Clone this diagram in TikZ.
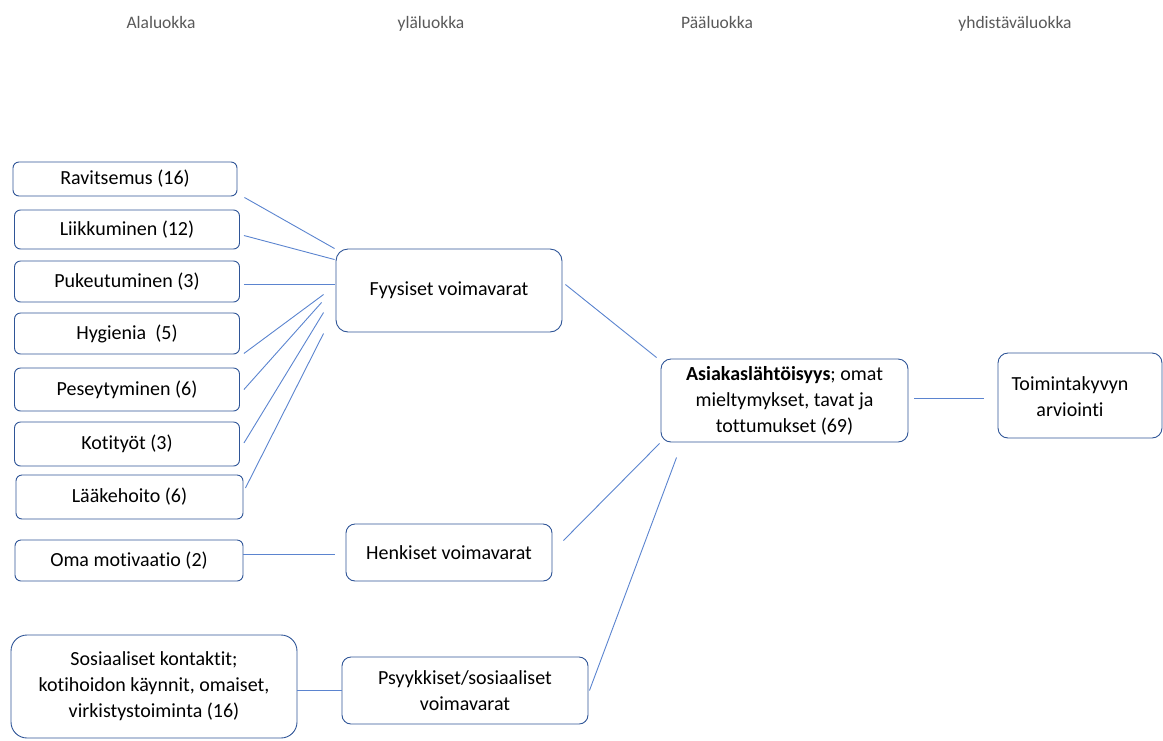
\documentclass[tikz,border=0pt]{standalone}
\usepackage{fontspec}
\setmainfont{Carlito}[Ligatures=NoCommon]
\usetikzlibrary{calc}
\definecolor{boxline}{HTML}{2F5597}
\definecolor{linkblue}{HTML}{5B84CF}
\definecolor{headgray}{HTML}{595959}
\tikzset{
  box/.style={draw=boxline, line width=0.9pt, rounded corners=6pt, inner sep=0pt,
    align=center, font=\fontsize{20}{26}\selectfont, text=black},
  bigbox/.style={box, rounded corners=12pt},
  link/.style={draw=linkblue, line width=0.9pt},
  head/.style={font=\fontsize{17.5}{20}\selectfont, text=headgray, anchor=base, inner sep=0pt}
}
\begin{document}
\begin{tikzpicture}[x=1pt, y=-1pt]
\useasboundingbox (0,0) rectangle (1163,740);

% column headings
\node[head] (h1) at (161,28) {Alaluokka};
\node[head] (h2) at (431,28) {yläluokka};
\node[head] (h3) at (717,28) {Pääluokka};
\node[head] (h4) at (1015,28) {yhdistäväluokka};

% sub-categories
\node[box, minimum width=224pt, minimum height=34pt] (rav) at (125,179) {Ravitsemus (16)};
\node[box, minimum width=225pt, minimum height=39pt] (lii) at (127,229.5) {Liikkuminen (12)};
\node[box, minimum width=225pt, minimum height=41pt] (puk) at (127,281.5) {Pukeutuminen (3)};
\node[box, minimum width=225pt, minimum height=41pt] (hyg) at (127,333.5) {Hygienia\ \ (5)};
\node[box, minimum width=225pt, minimum height=43pt] (pes) at (127,389.5) {Peseytyminen (6)};
\node[box, minimum width=225pt, minimum height=44pt] (kot) at (127,444) {Kotityöt (3)};
\node[box, minimum width=227pt, minimum height=44pt] (laa) at (129.5,497) {Lääkehoito (6)};
\node[box, minimum width=228pt, minimum height=41pt] (oma) at (129,560.5) {Oma motivaatio (2)};
\node[bigbox, rounded corners=16pt, minimum width=286pt, minimum height=103pt] (sos) at (154,686.5)
  {Sosiaaliset kontaktit;\\kotihoidon käynnit, omaiset,\\virkistystoiminta (16)};

% upper categories
\node[bigbox, minimum width=226pt, minimum height=83pt] (fyy) at (449,290.5) {Fyysiset voimavarat};
\node[bigbox, rounded corners=9pt, minimum width=206pt, minimum height=57pt] (hen) at (449,552.5) {Henkiset voimavarat};
\node[bigbox, rounded corners=9pt, minimum width=246pt, minimum height=67pt] (psy) at (465,690.5) {Psyykkiset/sosiaaliset\\voimavarat};

% main category
\node[bigbox, rounded corners=10pt, minimum width=247pt, minimum height=83pt] (asi) at (784.5,400.5)
  {\textbf{Asiakaslähtöisyys}; omat\\mieltymykset, tavat ja\\tottumukset (69)};

% combining category
\node[bigbox, rounded corners=10pt, minimum width=164pt, minimum height=85pt] (toi) at (1080,395.5) {};
\node[font=\fontsize{20}{26}\selectfont, align=center, inner sep=0pt] (toit) at (1070,396.5) {Toimintakyvyn\\arviointi};

% connectors to the physical resources
\draw[link] ([shift={(7,1)}]rav.south east) -- ([shift={(-1,0)}]fyy.north west);
\draw[link] ([shift={(4,6)}]lii.east) -- ([shift={(-1,11)}]fyy.north west);
\draw[link] ([shift={(4,3)}]puk.east) -- ([shift={(-1,-6)}]fyy.west);
\draw[link] ([shift={(4,-1)}]hyg.south east) -- ([shift={(-12,4)}]fyy.west);
\draw[link] ([shift={(4,0)}]pes.east) -- ([shift={(-14,12)}]fyy.west);
\draw[link] ([shift={(4,-1)}]kot.east) -- ([shift={(-12,22)}]fyy.west);
\draw[link] ([shift={(2,-9)}]laa.east) -- ([shift={(-12,1)}]fyy.south west);

% other connectors
\draw[link] ([shift={(0,-6)}]oma.east) -- ([shift={(-11,2)}]hen.west);
\draw[link] ([shift={(0,4)}]sos.east) -- ([shift={(0,0)}]psy.west);
\draw[link] ([shift={(3,-6)}]fyy.east) -- ([shift={(-4,-1)}]asi.north west);
\draw[link] ([shift={(11,-12)}]hen.east) -- ([shift={(-1,1)}]asi.south west);
\draw[link] ([shift={(1,0)}]psy.east) -- ([shift={(16,15)}]asi.south west);
\draw[link] ([shift={(6,-2)}]asi.east) -- ([shift={(-14,3)}]toi.west);
\end{tikzpicture}
\end{document}
